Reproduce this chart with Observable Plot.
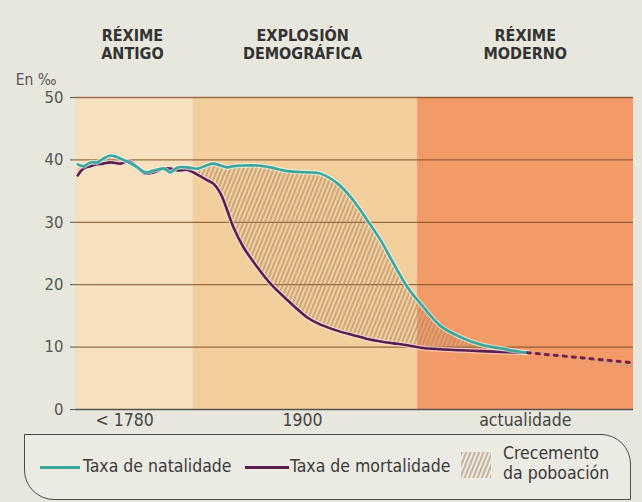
<!DOCTYPE html>
<html><head><meta charset="utf-8">
<script src="https://cdn.jsdelivr.net/npm/d3@7"></script>
<script src="https://cdn.jsdelivr.net/npm/@observablehq/plot@0.6"></script>
<style>
html,body{margin:0;padding:0;}
body{background:#e8e7dd;width:642px;height:502px;overflow:hidden;position:relative;
  font-family:"DejaVu Sans Condensed","Liberation Sans",sans-serif;}
#chart{position:absolute;left:0;top:0;}
#legend{position:absolute;left:24px;top:434px;width:607px;height:66px;box-sizing:border-box;
  border:1.6px solid #4a4a4a;border-radius:0 30px 0 30px;background:#ebeae3;}
.li{position:absolute;font-size:17.5px;color:#3a3a3a;white-space:nowrap;line-height:1;}
.sw{position:absolute;height:3px;}
</style></head><body>
<svg width="0" height="0" style="position:absolute">
  <defs>
    <pattern id="hatch" patternUnits="userSpaceOnUse" width="4" height="4" patternTransform="rotate(22)">
      <line x1="1" y1="0" x2="1" y2="4" stroke="#a98462" stroke-width="1.1"/>
    </pattern>
  </defs>
</svg>
<div id="chart"></div>
<div id="legend">
  <div class="sw" style="left:15px;top:31px;width:40px;background:#3aa79f"></div>
  <div class="li" style="left:58px;top:23px">Taxa de natalidade</div>
  <div class="sw" style="left:220px;top:31px;width:44px;background:#5a1f4e"></div>
  <div class="li" style="left:265px;top:23px">Taxa de mortalidade</div>
  <svg style="position:absolute;left:436px;top:17px" width="30" height="26"><rect width="30" height="26" fill="url(#hatch)"/></svg>
  <div class="li" style="left:478px;top:8px;line-height:20px">Crecemento<br>da poboación</div>
</div>
<script>
// relative time position (0 = start of chart, 100 = right edge)
const t = [0.4, 1.4, 2.7, 3.9, 5.0, 6.3, 8.1, 9.5, 11.1, 12.5, 14.0, 15.8, 17.0, 18.3, 20.1, 21.9,
  23.7, 24.7, 26.0, 27.2, 28.3, 30.1, 32.6, 34.9, 38.0, 41.6, 43.9, 47.0, 49.8, 52.3, 54.7,
  57.0, 59.5, 61.8, 65.4, 69.0, 72.6, 77.4, 81.0];
const natalidade = [39.3, 39.0, 39.6, 39.6, 40.2, 40.7, 40.2, 39.6, 38.8, 38.0, 38.3, 38.6, 38.0, 38.8, 38.8, 38.6,
  39.2, 39.4, 39.1, 38.8, 39.0, 39.1, 39.1, 38.8, 38.2, 38.0, 37.8, 36.2, 33.5, 30.3, 27.1,
  23.4, 19.6, 17.0, 13.4, 11.6, 10.4, 9.6, 9.1];
const mortalidade = [37.5, 38.6, 39.0, 39.3, 39.4, 39.6, 39.4, 39.8, 38.8, 37.8, 38.0, 38.6, 38.6, 38.3, 38.4, 37.6,
  36.7, 36.2, 34.6, 31.9, 29.2, 26.0, 22.8, 20.2, 17.5, 14.7, 13.6, 12.6, 11.9, 11.3, 10.9,
  10.6, 10.3, 9.9, 9.65, 9.5, 9.35, 9.2, 9.1];
// projection (dotted)
const tFuturo = [81.0, 90.5, 99.8];
const natalidadeFuturo = [9.1, 8.2, 6.9];
const mortalidadeFuturo = [9.1, 8.3, 7.5];
// periods
const periodoInicio = [0, 21.1, 61.3];
const periodoFin = [21.1, 61.3, 100];
const periodoCor = ["#f7e0bd", "#f4cf9e", "#f29b69"];
const periodoNome = ["RÉXIME\nANTIGO", "EXPLOSIÓN\nDEMOGRÁFICA", "RÉXIME\nMODERNO"];
const periodoCentro = [10.2, 40.7, 80.6];
// axis labels
const xTickPos = [8.8, 40.7, 80.6];
const xTickLabels = ["< 1780", "1900", "actualidade"];
const yTicks = [0, 10, 20, 30, 40, 50];

const idx = d3.range(t.length);
const idxF = d3.range(tFuturo.length);
const FONT = '"DejaVu Sans Condensed","Liberation Sans",sans-serif';

const chart = Plot.plot({
  width: 642, height: 430,
  marginLeft: 75, marginRight: 9, marginTop: 97, marginBottom: 21,
  x: {domain: [0, 100], axis: null},
  y: {domain: [0, 50], ticks: yTicks, tickSize: 5, tickPadding: 7, label: null},
  color: {type: "identity"},
  style: {background: "transparent", fontFamily: FONT, fontSize: "16.5px", color: "#555", overflow: "visible"},
  marks: [
    Plot.rect(periodoInicio, {x1: d => d, x2: (d, i) => periodoFin[i], y1: 0, y2: 50, fill: (d, i) => periodoCor[i]}),
    Plot.ruleY(yTicks.filter(v => v > 0), {stroke: "#7a4520", strokeOpacity: 0.75, strokeWidth: 1.3}),
    Plot.areaY(idx, {x: i => t[i], y1: i => mortalidade[i], y2: i => natalidade[i], fill: "url(#hatch)", curve: "catmull-rom"}),
    Plot.line(idx, {x: i => t[i], y: i => mortalidade[i], stroke: "#fbe6ee", strokeWidth: 5, strokeOpacity: 0.6, curve: "catmull-rom"}),
    Plot.line(idx, {x: i => t[i], y: i => mortalidade[i], stroke: "#5a1f4e", strokeWidth: 2.6, curve: "catmull-rom"}),
    Plot.line(idx, {x: i => t[i], y: i => natalidade[i], stroke: "#e6fbf6", strokeWidth: 5, strokeOpacity: 0.6, curve: "catmull-rom"}),
    Plot.line(idx, {x: i => t[i], y: i => natalidade[i], stroke: "#3aa79f", strokeWidth: 2.6, curve: "catmull-rom"}),
    Plot.line(idxF, {x: i => tFuturo[i], y: i => natalidadeFuturo[i], stroke: "#9aa8a2", strokeWidth: 1.3, strokeDasharray: "1.5 2.5", curve: "catmull-rom"}),
    Plot.line(idxF, {x: i => tFuturo[i], y: i => mortalidadeFuturo[i], stroke: "#7d1f45", strokeWidth: 3, strokeDasharray: "3 6", curve: "catmull-rom"}),
    Plot.ruleY([0], {stroke: "#555", strokeWidth: 1.3}),
    Plot.text(xTickPos, {x: d => d, text: (d, i) => xTickLabels[i], frameAnchor: "bottom", dy: 16, fontSize: 17.5, fill: "#444"}),
    Plot.text(periodoCentro, {x: d => d, text: (d, i) => periodoNome[i], frameAnchor: "top", dy: -70, lineAnchor: "top", lineHeight: 1.15, fontWeight: "bold", fontSize: 16, fill: "#333"}),
    Plot.text(["En ‰"], {frameAnchor: "top-left", dx: -19, dy: -24, textAnchor: "end", fontSize: 15.5, fill: "#555"})
  ]
});
document.getElementById("chart").appendChild(chart);
</script>
</body></html>
